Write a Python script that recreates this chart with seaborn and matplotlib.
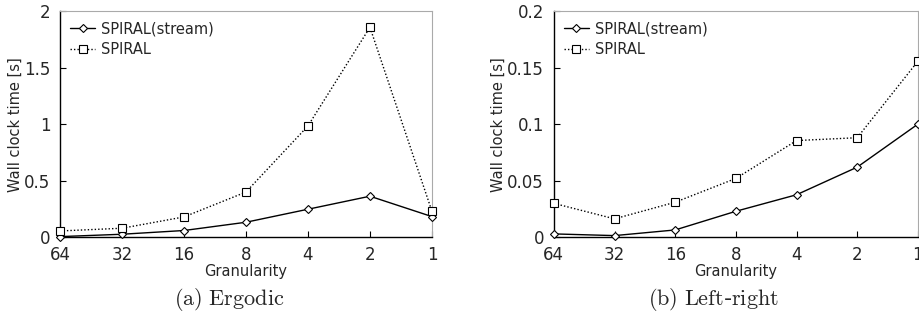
import matplotlib
matplotlib.use("Agg")
import matplotlib.pyplot as plt
import seaborn as sns
import pandas as pd

granularity = ["64", "32", "16", "8", "4", "2", "1"]
ergodic_stream = [0.006, 0.027, 0.06, 0.133, 0.248, 0.363, 0.183]
ergodic_spiral = [0.056, 0.08, 0.18, 0.40, 0.984, 1.856, 0.23]
lr_stream = [0.003, 0.0015, 0.0065, 0.023, 0.0376, 0.062, 0.100]
lr_spiral = [0.030, 0.0163, 0.031, 0.052, 0.0855, 0.088, 0.1556]

sns.set_theme(style="white")
plt.rcParams['font.family'] = ['DejaVu Sans']
plt.rcParams['mathtext.fontset'] = 'cm'

fig = plt.figure(figsize=(9.2, 3.24), dpi=100)
ax1 = fig.add_axes([0.0652, 0.2676, 0.4043, 0.6985])
ax2 = fig.add_axes([0.602, 0.2676, 0.3957, 0.6985])

panels = [
    (ax1, ergodic_stream, ergodic_spiral, 2.0, [0, 0.5, 1, 1.5, 2], ["0", "0.5", "1", "1.5", "2"]),
    (ax2, lr_stream, lr_spiral, 0.2, [0, 0.05, 0.1, 0.15, 0.2], ["0", "0.05", "0.1", "0.15", "0.2"]),
]

for ax, s_stream, s_spiral, ymax, yt, ytl in panels:
    df = pd.DataFrame({"pos": range(len(granularity)), "stream": s_stream, "spiral": s_spiral})
    sns.lineplot(data=df, x="pos", y="stream", ax=ax, color="black", linewidth=1.0,
                 marker="D", markersize=4.5, markerfacecolor="white", markeredgecolor="black",
                 markeredgewidth=0.8, label="SPIRAL(stream)", clip_on=False, zorder=3)
    sns.lineplot(data=df, x="pos", y="spiral", ax=ax, color="black", linewidth=1.0,
                 linestyle=(0, (1, 1.5)), marker="s", markersize=6, markerfacecolor="white",
                 markeredgecolor="black", markeredgewidth=0.8, label="SPIRAL", clip_on=False, zorder=3)
    ax.set_xlim(0, 6)
    ax.set_ylim(0, ymax)
    ax.set_xticks(range(len(granularity)))
    ax.set_xticklabels(granularity, fontsize=12)
    ax.set_yticks(yt)
    ax.set_yticklabels(ytl, fontsize=12)
    ax.set_xlabel("Granularity", fontsize=10.5, labelpad=0)
    ax.set_ylabel("Wall clock time [s]", fontsize=10.5, labelpad=1)
    ax.tick_params(axis="both", direction="in", length=4, width=0.8, color="black")
    ax.tick_params(axis="x", pad=6)
    ax.tick_params(axis="y", pad=7)
    ax.tick_params(axis="both", which="both", bottom=True, left=True)
    for side in ["left", "bottom"]:
        ax.spines[side].set_color("black")
        ax.spines[side].set_linewidth(1.0)
    for side in ["top", "right"]:
        ax.spines[side].set_color("#aaaaaa")
        ax.spines[side].set_linewidth(0.8)
    ax.legend(loc="upper left", frameon=False, fontsize=10.5, handlelength=1.7,
              handletextpad=0.4, borderaxespad=0.3, labelspacing=0.4)
    ax.grid(False)

fig.text(0.249, 0.075, r"$\mathrm{(a)\ Ergodic}$", ha="center", va="center", fontsize=16)
fig.text(0.775, 0.075, r"$\mathrm{(b)\ Left}$-$\mathrm{right}$", ha="center", va="center", fontsize=16)

fig.savefig("out.png", dpi=100, facecolor="white")
